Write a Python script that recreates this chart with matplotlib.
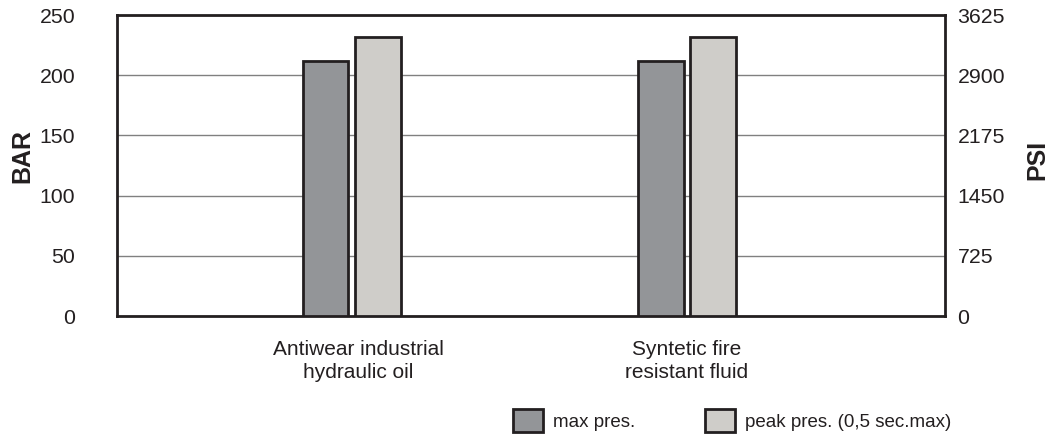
import numpy as np
import matplotlib.pyplot as plt
from matplotlib.patches import Patch

plt.rcParams['font.family'] = ['Liberation Sans', 'DejaVu Sans']

categories = ['Antiwear industrial\nhydraulic oil', 'Syntetic fire\nresistant fluid']
max_pres = [212, 212]
peak_pres = [232, 232]
series_names = ['max pres.', 'peak pres. (0,5 sec.max)']
bar_ticks = [0, 50, 100, 150, 200, 250]
psi_labels = ['0', '725', '1450', '2175', '2900', '3625']

dark = '#939598'
light = '#cfcdc9'
edge = '#231f20'
txt = '#231f20'

fig = plt.figure(figsize=(10.48, 4.44), dpi=100)
ax = fig.add_axes([117 / 1048, 1 - 316 / 444, 828 / 1048, 301 / 444])

x = np.arange(len(categories))
w = 0.137
off = 0.078
ax.bar(x - off, max_pres, w, color=dark, edgecolor=edge, linewidth=2, zorder=3)
ax.bar(x + off, peak_pres, w, color=light, edgecolor=edge, linewidth=2, zorder=3)

ax.set_xlim(-0.70, 1.77)
ax.set_ylim(0, 250)
ax.set_yticks(bar_ticks)
ax.set_xticks(x + np.array([0.02, 0.0]))
ax.set_xticklabels(categories, fontsize=15, linespacing=1.27)
ax.tick_params(axis='y', length=0, labelsize=15.3, colors=txt, pad=30)
ax.tick_params(axis='x', length=0, colors=txt, pad=17)
for t in ax.get_yticklabels():
    t.set_horizontalalignment('right')
ax.yaxis.grid(True, color='#808080', linewidth=1, zorder=0)
for s in ax.spines.values():
    s.set_linewidth(2)
    s.set_color(edge)
ax.set_ylabel('BAR', fontsize=18, fontweight='bold', color=txt)
ax.yaxis.set_label_coords(-83 / 828, 0.53)

ax2 = ax.twinx()
ax2.set_ylim(0, 250)
ax2.set_yticks(bar_ticks)
ax2.set_yticklabels(psi_labels)
ax2.tick_params(axis='y', length=0, labelsize=15.3, pad=9, colors=txt)
for s in ax2.spines.values():
    s.set_visible(False)
ax2.set_ylabel('PSI', fontsize=18, fontweight='bold', color=txt, rotation=90)
ax2.yaxis.set_label_coords(1 + 80 / 828, 0.52)

handles = [Patch(facecolor=dark, edgecolor=edge, linewidth=2),
           Patch(facecolor=light, edgecolor=edge, linewidth=2)]
fig.legend(handles, series_names, loc='lower left', bbox_to_anchor=(496 / 1048, -0.012),
           ncol=2, frameon=False, fontsize=13.5, handlelength=1.6, handleheight=1.55,
           handletextpad=0.55, columnspacing=3.7, labelcolor=txt)

fig.savefig('out.png', dpi=100)
